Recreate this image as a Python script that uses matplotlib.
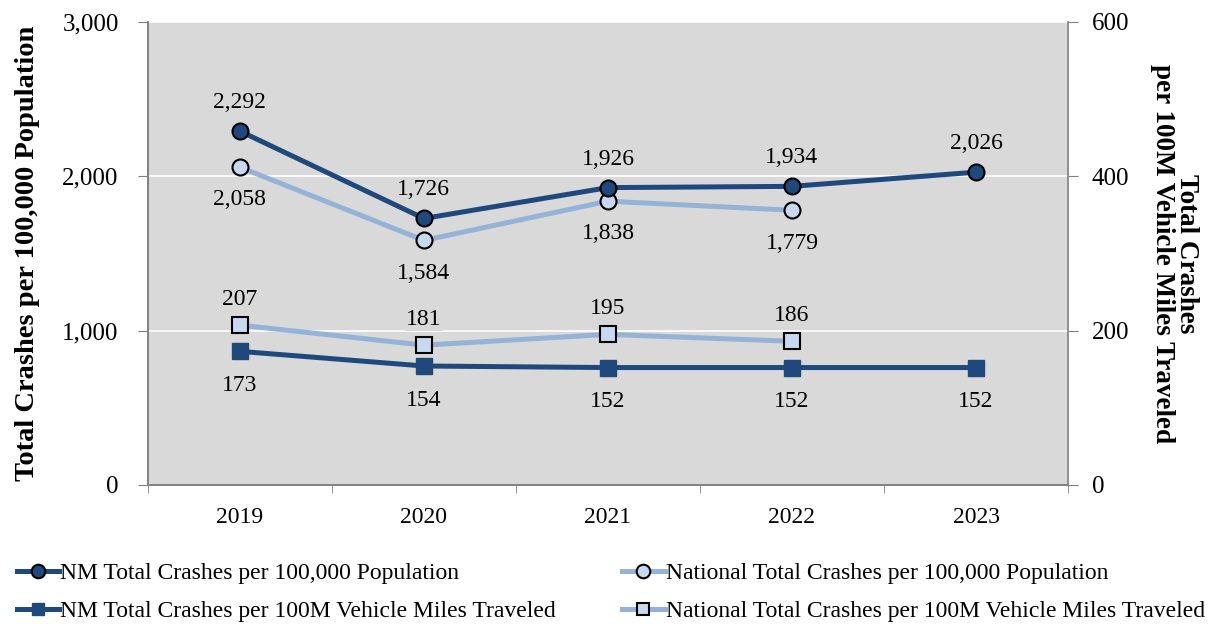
import matplotlib
matplotlib.use("Agg")
import matplotlib.pyplot as plt
from matplotlib.ticker import FuncFormatter, MultipleLocator, FixedLocator

plt.rcParams['font.family'] = ['Liberation Serif', 'DejaVu Serif']

# data
years = ['2019', '2020', '2021', '2022', '2023']
nm_pop = [2292, 1726, 1926, 1934, 2026]
nat_pop = [2058, 1584, 1838, 1779]
nm_vmt = [173, 154, 152, 152, 152]
nat_vmt = [207, 181, 195, 186]

dark = '#1F497D'
light = '#95B3D7'
light_face = '#C6D9F1'
bg = '#D9D9D9'

fig = plt.figure(figsize=(12.22, 6.24), dpi=100)
ax = fig.add_axes([0.121, 0.223, 0.753, 0.742])
ax2 = ax.twinx()

x = list(range(len(years)))
ax.set_facecolor(bg)
ax.set_xlim(-0.5, len(years) - 0.5)
ax.set_ylim(0, 3000)
ax2.set_ylim(0, 600)
ax.yaxis.set_major_locator(MultipleLocator(1000))
ax2.yaxis.set_major_locator(MultipleLocator(200))
ax.yaxis.set_major_formatter(FuncFormatter(lambda v, p: f'{int(v):,}'))
ax.grid(axis='y', color='white', linewidth=1.2)
ax.set_axisbelow(True)

ax.set_xticks(x)
ax.set_xticklabels(years)
ax.xaxis.set_minor_locator(FixedLocator([i - 0.5 for i in range(len(years) + 1)]))
ax.tick_params(axis='x', which='major', length=0, labelsize=17, pad=16)
ax.tick_params(axis='x', which='minor', length=6, color='#808080')
ax.tick_params(axis='y', length=7, color='#808080', labelsize=18, pad=14)
ax2.tick_params(axis='y', length=7, color='#808080', labelsize=18, pad=10)

for a in (ax, ax2):
    a.spines['top'].set_visible(False)
    for s in ('left', 'right', 'bottom'):
        a.spines[s].set_color('#808080')
        a.spines[s].set_linewidth(1.2)
ax.spines['right'].set_visible(False)

l1, = ax.plot(x, nm_pop, color=dark, lw=3.6, marker='o', ms=11.5,
              mfc=dark, mec='black', mew=1.5, zorder=4,
              label='NM Total Crashes per 100,000 Population')
l2, = ax.plot(x[:len(nat_pop)], nat_pop, color=light, lw=3.6, marker='o', ms=11.5,
              mfc=light_face, mec='black', mew=1.5, zorder=3,
              label='National Total Crashes per 100,000 Population')
l3, = ax2.plot(x, nm_vmt, color=dark, lw=3.6, marker='s', ms=11,
               mfc=dark, mec=dark, zorder=4,
               label='NM Total Crashes per 100M Vehicle Miles Traveled')
l4, = ax2.plot(x[:len(nat_vmt)], nat_vmt, color=light, lw=3.6, marker='s', ms=11,
               mfc=light_face, mec='black', mew=1.5, zorder=3,
               label='National Total Crashes per 100M Vehicle Miles Traveled')

box = dict(facecolor=bg, edgecolor='none', pad=1)
for xi, v in zip(x, nm_pop):
    ax.annotate(f'{v:,}', (xi, v), xytext=(0, 13), textcoords='offset points',
                ha='center', va='bottom', fontsize=17, bbox=box)
for xi, v in zip(x, nat_pop):
    ax.annotate(f'{v:,}', (xi, v), xytext=(0, -16), textcoords='offset points',
                ha='center', va='top', fontsize=17, bbox=box)
for xi, v in zip(x, nat_vmt):
    ax2.annotate(f'{v:,}', (xi, v), xytext=(0, 11), textcoords='offset points',
                 ha='center', va='bottom', fontsize=17, bbox=box)
for xi, v in zip(x, nm_vmt):
    ax2.annotate(f'{v:,}', (xi, v), xytext=(0, -17), textcoords='offset points',
                 ha='center', va='top', fontsize=17, bbox=box)

ax.set_ylabel('Total Crashes per 100,000 Population', fontsize=20.5,
              fontweight='bold', labelpad=16)
ax2.set_ylabel('Total Crashes\nper 100M Vehicle Miles Traveled', fontsize=19.5,
               fontweight='bold', rotation=270, labelpad=50, linespacing=0.95)

fig.legend(handles=[l1, l3, l2, l4], loc='lower left', bbox_to_anchor=(0.004, -0.016),
           ncol=2, frameon=False, fontsize=17, handlelength=1.8, markerscale=0.85,
           handletextpad=0.05, columnspacing=2.8, labelspacing=0.7, borderpad=0)

fig.savefig('out.png', dpi=100)
